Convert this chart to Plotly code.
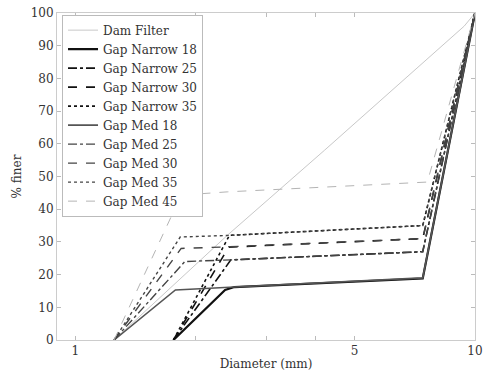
import plotly.graph_objects as go

# ---- data (diameter in mm, percent finer) ----
dam_x = [1.25, 2.4, 4.2, 9.4, 10]
dam_y = [0, 32, 58, 96, 100]

narrow_x = [1.76, 2.37, 2.5, 7.4, 10]
narrow18_y = [0, 15.3, 16.2, 18.8, 100]
narrow25_x = [1.76, 2.45, 7.4, 10]
narrow25_y = [0, 24.5, 27, 100]
narrow30_x = [1.76, 2.42, 7.4, 10]
narrow30_y = [0, 28.4, 31, 100]
narrow35_x = [1.76, 2.43, 7.4, 10]
narrow35_y = [0, 32, 35, 100]

med18_x = [1.25, 1.78, 2.5, 7.4, 10]
med18_y = [0, 15.3, 16.2, 19, 100]
med25_x = [1.25, 1.88, 2.45, 7.4, 10]
med25_y = [0, 24, 24.5, 27, 100]
med30_x = [1.25, 1.84, 2.42, 7.4, 10]
med30_y = [0, 28, 28.5, 31, 100]
med35_x = [1.25, 1.83, 2.43, 7.4, 10]
med35_y = [0, 31.5, 32, 35, 100]
med45_x = [1.25, 1.84, 2.4, 7.6, 10]
med45_y = [0, 44.3, 45.3, 48.3, 100]

x_tickvals = [1, 2, 3, 4, 5, 10]
x_ticktext = ["1", "", "", "", "5", "10"]
y_tickvals = [0, 10, 20, 30, 40, 50, 60, 70, 80, 90, 100]

series = [
    ("Dam Filter", dam_x, dam_y, "#c8c8c8", 1, "solid"),
    ("Gap Narrow 18", narrow_x, narrow18_y, "#111111", 2.2, "solid"),
    ("Gap Narrow 25", narrow25_x, narrow25_y, "#111111", 1.6, "dashdot"),
    ("Gap Narrow 30", narrow30_x, narrow30_y, "#111111", 1.6, "dash"),
    ("Gap Narrow 35", narrow35_x, narrow35_y, "#111111", 1.6, "dot"),
    ("Gap Med 18", med18_x, med18_y, "#555555", 1.6, "solid"),
    ("Gap Med 25", med25_x, med25_y, "#444444", 1.4, "dashdot"),
    ("Gap Med 30", med30_x, med30_y, "#444444", 1.4, "dash"),
    ("Gap Med 35", med35_x, med35_y, "#444444", 1.4, "dot"),
    ("Gap Med 45", med45_x, med45_y, "#b4b4b4", 1, "dash"),
]

fig = go.Figure()
for name, xs, ys, col, w, dash in series:
    fig.add_trace(go.Scatter(x=xs, y=ys, name=name, mode="lines",
                             line=dict(color=col, width=w, dash=dash)))

font = "DejaVu Serif"
fig.update_layout(
    width=485, height=375,
    margin=dict(l=57, r=10, t=13, b=35),
    paper_bgcolor="white", plot_bgcolor="white",
    font=dict(family=font, size=12, color="#333333"),
    showlegend=True,
    legend=dict(x=0.012, y=0.995, xanchor="left", yanchor="top",
                bgcolor="white", bordercolor="#bbbbbb", borderwidth=1,
                font=dict(family=font, size=12, color="#333333"),
                tracegroupgap=0, itemwidth=30),
    xaxis=dict(type="log", range=[-0.0458, 1.0], tickvals=x_tickvals,
               ticktext=x_ticktext, ticks="inside", ticklen=4,
               tickcolor="#bbbbbb", showline=True, linecolor="#cccccc",
               mirror="ticks", showgrid=False, zeroline=False,
               automargin=False, ticklabeloverflow="allow",
               title=dict(text="Diameter (mm)", standoff=2,
                          font=dict(family=font, size=12, color="#333333"))),
    yaxis=dict(range=[0, 100], tickvals=y_tickvals, ticks="inside",
               ticklen=4, tickcolor="#bbbbbb", showline=True,
               linecolor="#cccccc", mirror="ticks", showgrid=False,
               zeroline=False, automargin=False,
               title=dict(text="% finer", standoff=6,
                          font=dict(family=font, size=12, color="#333333"))),
)

fig.write_html("out.html")
